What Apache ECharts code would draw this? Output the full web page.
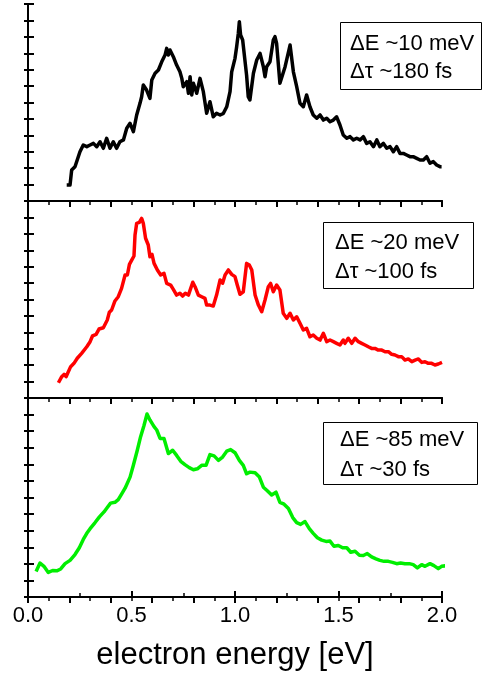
<!DOCTYPE html>
<html>
<head>
<meta charset="utf-8">
<script src="https://cdn.jsdelivr.net/npm/echarts@6/dist/echarts.min.js"></script>
<style>
  html, body { margin: 0; padding: 0; background: #fff; }
  #chart { width: 482px; height: 686px; }
</style>
</head>
<body>
<div id="chart"></div>
<script>
// Photoelectron spectra at three energy/time resolutions (arbitrary intensity units)
const energyTicks = [0.0, 0.5, 1.0, 1.5, 2.0];

// ΔE ~10 meV, Δτ ~180 fs
const blackEnergy = [0.187,0.203,0.211,0.227,0.251,0.267,0.284,0.300,0.316,0.332,0.348,0.364,0.380,0.396,0.412,0.428,0.444,0.461,0.477,0.493,0.509,0.525,0.541,0.549,0.557,0.573,0.589,0.598,0.614,0.630,0.646,0.662,0.670,0.678,0.686,0.702,0.718,0.734,0.743,0.750,0.767,0.775,0.783,0.791,0.799,0.815,0.831,0.847,0.863,0.879,0.895,0.911,0.928,0.944,0.960,0.976,0.984,0.992,1.000,1.008,1.016,1.021,1.027,1.037,1.056,1.064,1.072,1.089,1.105,1.121,1.137,1.145,1.153,1.169,1.185,1.193,1.201,1.217,1.225,1.242,1.266,1.282,1.298,1.314,1.330,1.346,1.362,1.378,1.395,1.411,1.427,1.443,1.459,1.475,1.491,1.507,1.523,1.540,1.556,1.572,1.588,1.604,1.620,1.636,1.652,1.669,1.685,1.700,1.717,1.733,1.749,1.765,1.781,1.797,1.813,1.829,1.845,1.861,1.878,1.894,1.910,1.926,1.942,1.958,1.974,1.990,1.998];
const blackSignal = [0.97,0.97,1.89,2.09,3.00,3.41,3.31,3.41,3.51,3.31,3.61,3.21,3.82,3.21,3.61,3.21,3.61,3.72,4.43,4.73,4.22,5.24,5.95,6.35,7.06,6.76,6.25,7.37,7.78,7.98,8.48,8.89,9.30,8.89,9.20,8.79,8.28,7.87,7.47,6.96,7.27,6.56,7.57,6.46,7.17,6.56,7.47,6.66,5.34,6.05,5.13,5.34,5.24,5.34,5.74,6.66,7.87,8.28,8.69,9.40,10.21,10.92,10.11,9.81,7.67,6.35,6.15,7.78,8.59,8.99,8.18,7.57,8.18,8.48,9.81,10.01,9.60,7.17,7.17,8.18,9.50,7.87,6.96,5.95,5.74,6.46,5.74,5.24,5.04,5.24,4.93,5.04,4.83,4.93,5.13,4.63,4.02,3.82,3.92,3.72,3.82,3.72,3.92,3.51,3.61,3.31,3.72,3.31,3.51,3.21,3.31,3.00,3.31,2.90,2.90,2.80,2.70,2.70,2.60,2.50,2.50,2.70,2.30,2.40,2.19,2.09,2.09];

// ΔE ~20 meV, Δτ ~100 fs
const redEnergy = [0.147,0.163,0.174,0.184,0.206,0.222,0.238,0.259,0.284,0.300,0.312,0.329,0.343,0.364,0.372,0.383,0.393,0.404,0.420,0.436,0.452,0.469,0.480,0.490,0.501,0.512,0.517,0.525,0.538,0.549,0.557,0.568,0.581,0.589,0.599,0.609,0.625,0.641,0.657,0.670,0.689,0.702,0.718,0.734,0.747,0.760,0.775,0.783,0.796,0.807,0.823,0.839,0.855,0.863,0.879,0.895,0.911,0.928,0.940,0.952,0.968,0.984,1.000,1.011,1.024,1.040,1.056,1.069,1.081,1.097,1.113,1.129,1.145,1.161,1.172,1.185,1.201,1.217,1.233,1.250,1.266,1.282,1.298,1.314,1.330,1.346,1.362,1.378,1.395,1.411,1.427,1.443,1.459,1.475,1.491,1.507,1.523,1.531,1.547,1.564,1.580,1.596,1.612,1.628,1.644,1.660,1.676,1.692,1.709,1.725,1.741,1.757,1.773,1.789,1.805,1.821,1.837,1.854,1.870,1.886,1.902,1.918,1.934,1.950,1.966,1.982,2.000];
const redSignal = [0.93,1.30,1.44,1.30,1.91,2.11,2.42,2.72,3.12,3.43,3.79,3.88,4.20,4.28,4.28,4.75,5.22,5.36,5.91,6.17,6.68,7.49,7.49,8.14,8.40,8.65,9.93,10.64,10.70,10.94,10.64,9.73,9.32,8.61,8.75,8.20,7.80,7.49,7.59,6.98,6.88,6.62,6.27,6.38,6.21,6.38,6.27,6.38,7.05,6.78,6.27,6.17,6.07,5.66,5.66,5.60,6.27,7.19,6.99,7.49,7.80,7.53,7.39,6.88,6.32,6.47,8.20,8.10,7.80,6.27,5.66,5.26,5.97,6.78,6.98,6.47,6.88,6.58,5.16,4.85,5.16,4.75,4.95,4.55,4.14,4.24,3.73,3.84,3.64,3.53,3.94,3.43,3.53,3.43,3.33,3.23,3.53,3.33,3.64,3.33,3.64,3.43,3.33,3.23,3.12,3.02,3.02,2.92,2.92,2.82,2.82,2.66,2.62,2.52,2.52,2.31,2.38,2.21,2.31,2.38,2.17,2.21,2.11,2.11,2.01,2.07,2.17];

// ΔE ~85 meV, Δτ ~30 fs
const greenEnergy = [0.039,0.058,0.077,0.098,0.119,0.139,0.158,0.179,0.203,0.227,0.248,0.267,0.284,0.300,0.324,0.345,0.367,0.383,0.399,0.420,0.436,0.452,0.469,0.493,0.509,0.528,0.544,0.560,0.575,0.589,0.609,0.622,0.638,0.657,0.678,0.699,0.718,0.738,0.758,0.779,0.799,0.818,0.839,0.860,0.879,0.899,0.920,0.940,0.960,0.979,1.000,1.021,1.040,1.056,1.072,1.097,1.118,1.137,1.156,1.177,1.198,1.217,1.237,1.258,1.279,1.298,1.317,1.338,1.359,1.378,1.398,1.419,1.440,1.459,1.478,1.499,1.520,1.540,1.559,1.580,1.601,1.620,1.639,1.660,1.681,1.700,1.720,1.741,1.761,1.781,1.800,1.821,1.842,1.861,1.881,1.902,1.918,1.942,1.961,1.982,1.998,2.022];
const greenSignal = [1.54,2.05,1.85,1.48,1.60,1.58,1.69,2.01,2.21,2.56,2.97,3.47,3.84,4.12,4.49,4.83,5.13,5.40,5.66,5.71,5.87,6.21,6.56,7.23,7.94,8.85,9.67,10.33,11.04,10.68,10.27,10.07,9.56,9.56,8.65,8.85,8.54,8.18,7.98,7.80,7.67,7.73,7.94,7.94,8.59,8.51,8.24,8.44,8.79,8.89,8.70,8.24,7.94,7.43,7.53,7.49,7.23,6.62,6.41,6.15,6.32,5.71,5.60,5.34,4.79,4.49,4.38,4.55,4.12,3.84,3.57,3.43,3.35,3.37,3.06,3.11,2.97,2.97,2.70,2.76,2.52,2.50,2.62,2.42,2.30,2.21,2.15,2.15,2.09,2.01,2.05,2.01,2.01,1.95,1.75,1.95,1.85,2.01,1.89,1.71,1.85,1.89];

const labelLines = [
  ['\u0394E ~10 meV', '\u0394\u03c4 ~180 fs'],
  ['\u0394E ~20 meV', '\u0394\u03c4 ~100 fs'],
  ['\u0394E ~85 meV', '\u0394\u03c4 ~30 fs']
];

const zip = (xs, ys) => xs.map((x, i) => [x, ys[i]]);

const FONT = 'Liberation Sans, Arial, sans-serif';
const AX = { color: '#000', width: 2 };

const panels = [
  { top: 4, height: 197 },
  { top: 201, height: 197 },
  { top: 398, height: 199 }
];

const grids = panels.map(p => ({ left: 28, right: 40, top: p.top, height: p.height }));

const xAxes = [];
const yAxes = [];
panels.forEach((p, i) => {
  // upper border with inward ticks every 0.1
  xAxes.push({
    type: 'value', gridIndex: i, position: 'top', min: 0, max: 2, interval: 0.2,
    axisLine: { show: true, lineStyle: AX },
    axisTick: { show: true, inside: true, length: 6, lineStyle: AX },
    minorTick: { show: true, splitNumber: 2, length: 4, lineStyle: { color: '#000', width: 1.5 } },
    axisLabel: { show: false }, splitLine: { show: false }
  });
  // lower border
  const last = i === panels.length - 1;
  xAxes.push({
    type: 'value', gridIndex: i, position: 'bottom', min: 0, max: 2, interval: 0.5,
    axisLine: { show: true, lineStyle: AX },
    axisTick: { show: last, inside: true, length: 6, lineStyle: AX },
    minorTick: { show: last, splitNumber: 2, length: 4, lineStyle: { color: '#000', width: 1.5 } },
    axisLabel: {
      show: last, fontSize: 22, fontFamily: FONT, color: '#000', margin: 8,
      formatter: v => (energyTicks.includes(v) ? v.toFixed(1) : '')
    },
    splitLine: { show: false },
    name: last ? 'electron energy [eV]' : '',
    nameLocation: 'middle', nameGap: 43,
    nameTextStyle: { fontSize: 31, fontFamily: FONT, color: '#000' }
  });
  yAxes.push({
    type: 'value', gridIndex: i, position: 'left', min: 0, max: 12, interval: 1,
    axisLine: { show: true, lineStyle: AX },
    axisTick: { show: true, inside: true, length: 6, lineStyle: AX },
    axisLabel: { show: false }, splitLine: { show: false }
  });
  yAxes.push({
    type: 'value', gridIndex: i, position: 'right', min: 0, max: 12, interval: 1,
    axisLine: { show: true, lineStyle: AX },
    axisTick: { show: true, inside: true, length: 4, lineStyle: AX },
    axisLabel: { show: false }, splitLine: { show: false }
  });
});

const lineSeries = (data, color, idx) => ({
  type: 'line', data, xAxisIndex: idx * 2, yAxisIndex: idx * 2,
  showSymbol: false, smooth: false, clip: false, z: 3,
  lineStyle: { color, width: 3.5, join: 'round' }
});

// annotation boxes
const boxes = [
  { x: 340, y: 22, w: 141, h: 67, tx: 350, l1: 44, l2: 72 },
  { x: 323, y: 222, w: 150, h: 66, tx: 335, l1: 243, l2: 272 },
  { x: 323, y: 422, w: 154, h: 62, tx: 340, l1: 440, l2: 470 }
];
const graphics = [];
boxes.forEach((b, i) => {
  graphics.push({
    type: 'rect', z: 100,
    shape: { x: b.x + 0.5, y: b.y + 0.5, width: b.w, height: b.h },
    style: { fill: '#fff', stroke: '#000', lineWidth: 1 }
  });
  [b.l1, b.l2].forEach((cy, k) => {
    graphics.push({
      type: 'text', z: 101, x: b.tx, y: cy,
      style: {
        text: labelLines[i][k], font: '22px ' + FONT, fill: '#000',
        textAlign: 'left', textVerticalAlign: 'middle'
      }
    });
  });
});

const chart = echarts.init(document.getElementById('chart'), null, { renderer: 'canvas' });
chart.setOption({
  animation: false,
  backgroundColor: '#fff',
  grid: grids,
  xAxis: xAxes,
  yAxis: yAxes,
  series: [
    lineSeries(zip(blackEnergy, blackSignal), '#000000', 0),
    lineSeries(zip(redEnergy, redSignal), '#ff0000', 1),
    lineSeries(zip(greenEnergy, greenSignal), '#00ee00', 2)
  ],
  graphic: graphics
});
</script>
</body>
</html>
